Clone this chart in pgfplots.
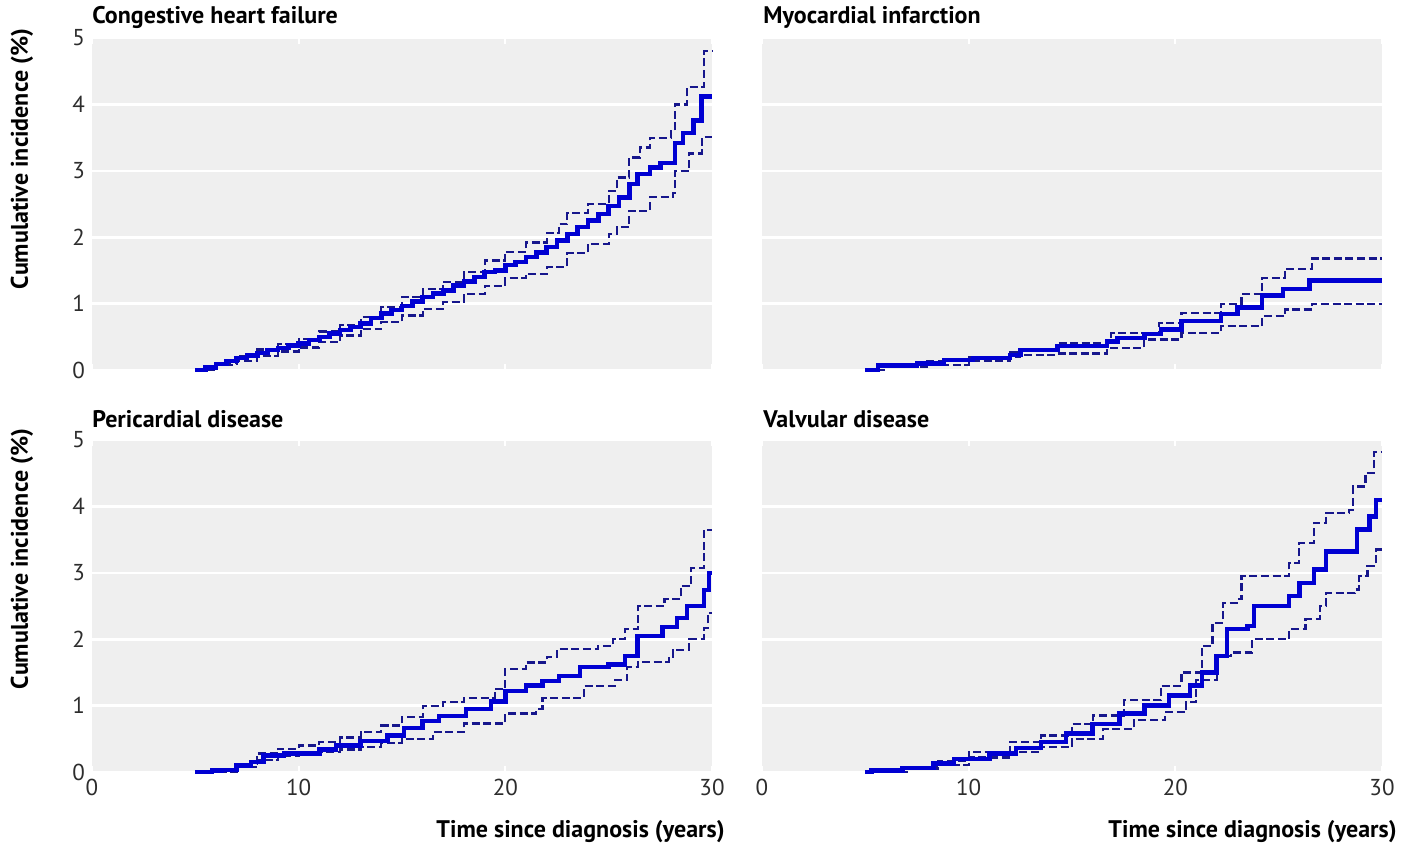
\documentclass[border=0pt]{standalone}
\usepackage{fontspec}
\setmainfont{PT Sans}
\usepackage{pgfplots}
\pgfplotsset{compat=1.18}

\definecolor{panelbg}{RGB}{239,239,239}
\definecolor{kmblue}{RGB}{0,0,210}
\definecolor{cinavy}{RGB}{22,22,140}
\definecolor{ticktext}{RGB}{45,45,45}

\pgfplotsset{
  panel/.style={
    scale only axis, width=310pt, height=166pt,
    anchor=south west,
    xmin=0, xmax=30, ymin=0, ymax=5,
    xtick={0,10,20,30}, ytick={0,...,5},
    axis background/.style={fill=panelbg},
    axis line style={draw=none},
    ymajorgrids, grid style={white, line width=1.3pt},
    xtick style={white, line width=1pt}, ytick style={draw=none},
    tick align=inside, major tick length=3pt,
    tick label style={font=\fontsize{11.5}{12}\selectfont, text=ticktext},
    /pgf/number format/assume math mode=true,
    clip=false,
  },
  est/.style={kmblue, line width=2.2pt, const plot, mark=none},
  ci/.style={cinavy, line width=1.1pt, dash pattern=on 4pt off 1.8pt, const plot, mark=none},
}
\newcommand{\lab}{\fontsize{12}{13}\selectfont\bfseries}

\begin{document}
\begin{tikzpicture}
\path[use as bounding box] (0,0) rectangle (701.5pt,-423pt);

% Congestive heart failure
\begin{axis}[panel, at={(46pt,-185pt)}, xticklabels={}]
  \addplot[ci] coordinates {(5,0) (6,0.1) (7,0.21) (8,0.31) (9,0.39) (10,0.47) (11,0.58) (12,0.68) (13,0.8) (14,0.95) (15,1.1) (16,1.22) (17,1.33) (18,1.48) (19,1.65) (20,1.78) (21,1.92) (22,2.06) (22.6,2.2) (23,2.36) (24,2.5) (25,2.7) (25.4,2.9) (26,3.2) (26.5,3.35) (27,3.5) (28,3.6) (28.2,4.0) (28.8,4.26) (29.6,4.8) (30,4.8)};
  \addplot[ci] coordinates {(5,0) (6,0.07) (7,0.14) (8,0.21) (9,0.28) (10,0.34) (11,0.42) (12,0.52) (13,0.62) (14,0.72) (15,0.82) (16,0.92) (17,1.03) (18,1.15) (19,1.27) (20,1.38) (21,1.45) (22,1.55) (23,1.76) (24,1.9) (25,2.05) (25.4,2.15) (26,2.4) (27,2.6) (28.1,2.66) (28.2,3.0) (28.9,3.26) (29.5,3.51) (30,3.51)};
  \addplot[est] coordinates {(5,0) (5.5,0.04) (6,0.09) (6.5,0.14) (7,0.18) (7.5,0.22) (8,0.26) (8.5,0.3) (9,0.33) (9.5,0.37) (10,0.4) (10.5,0.45) (11,0.5) (11.5,0.55) (12,0.6) (12.5,0.65) (13,0.7) (13.5,0.78) (14,0.85) (14.5,0.9) (15,0.96) (15.5,1.03) (16,1.1) (16.5,1.15) (17,1.2) (17.5,1.27) (18,1.33) (18.5,1.4) (19,1.48) (19.5,1.5) (20,1.58) (20.5,1.63) (21,1.7) (21.5,1.77) (22,1.85) (22.5,1.95) (23,2.05) (23.5,2.15) (24,2.25) (24.5,2.35) (25,2.47) (25.5,2.6) (26,2.8) (26.4,2.95) (27,3.05) (27.5,3.12) (28.2,3.42) (28.6,3.57) (29.1,3.76) (29.5,4.12) (30,4.12)};
\end{axis}

% Myocardial infarction
\begin{axis}[panel, at={(381pt,-185pt)}, xticklabels={}, yticklabels={}]
  \addplot[ci] coordinates {(5,0) (6,0.08) (8,0.13) (10,0.2) (12,0.27) (12.5,0.32) (14.3,0.41) (16.9,0.56) (19.2,0.71) (20.3,0.86) (22.2,0.99) (23.2,1.14) (24.2,1.39) (25.3,1.52) (26.6,1.68) (30,1.68)};
  \addplot[ci] coordinates {(5,0) (6,0.05) (8,0.08) (10,0.14) (12,0.19) (12.5,0.23) (14.3,0.25) (16.7,0.33) (18.5,0.46) (20.3,0.56) (22.2,0.66) (24.2,0.81) (25.3,0.91) (26.6,1.0) (30,1.0)};
  \addplot[est] coordinates {(5,0) (5.6,0.066) (7.5,0.1) (8.8,0.15) (10.2,0.18) (12,0.23) (12.5,0.3) (14.3,0.36) (16.7,0.43) (17.2,0.48) (18.5,0.54) (19.3,0.61) (20.3,0.74) (22.2,0.84) (23,0.94) (24.2,1.12) (25.2,1.22) (26.5,1.35) (30,1.35)};
\end{axis}

% Pericardial disease
\begin{axis}[panel, at={(46pt,-386pt)}]
  \addplot[ci] coordinates {(5,0) (6,0.02) (7,0.12) (8,0.28) (9,0.35) (10,0.4) (11,0.45) (12,0.52) (13,0.6) (14,0.7) (15,0.83) (16,1.0) (17,1.06) (18,1.12) (19.5,1.25) (20,1.55) (21,1.65) (22,1.73) (22.5,1.85) (24.5,1.9) (25.2,2.0) (25.8,2.15) (26.4,2.5) (27.7,2.6) (28.5,2.8) (29,3.07) (29.6,3.65) (30,3.65)};
  \addplot[ci] coordinates {(5,0) (6,0) (7,0.07) (8,0.18) (9,0.25) (10,0.28) (11,0.3) (12,0.34) (13,0.38) (14,0.44) (15,0.5) (16.5,0.6) (18,0.73) (20,0.88) (21.5,0.95) (21.8,1.12) (23.8,1.3) (25.3,1.38) (25.9,1.58) (26.4,1.66) (27.9,1.73) (28.1,1.84) (28.9,2.0) (29.6,2.17) (29.8,2.4) (30,2.4)};
  \addplot[est] coordinates {(5,0) (5.8,0.02) (6.3,0.03) (7,0.1) (7.7,0.15) (8.3,0.25) (9.3,0.28) (11,0.34) (11.8,0.4) (13,0.47) (14.3,0.55) (15.1,0.66) (16,0.77) (16.8,0.84) (18.1,0.95) (19.3,1.06) (20,1.22) (21,1.3) (21.8,1.37) (22.6,1.45) (23.6,1.58) (25,1.62) (25.8,1.75) (26.4,2.05) (27.6,2.18) (28.3,2.32) (28.8,2.5) (29.6,2.74) (29.85,3.0) (30,3.0)};
\end{axis}

% Valvular disease
\begin{axis}[panel, at={(381pt,-386pt)}, yticklabels={}]
  \addplot[ci] coordinates {(5,0) (7,0.08) (8.5,0.17) (10,0.3) (12,0.45) (13.5,0.55) (15,0.72) (16,0.85) (17.5,1.08) (19.3,1.3) (20.3,1.5) (21.3,1.9) (21.8,2.25) (22.3,2.55) (23,2.6) (23.2,2.95) (25.3,2.95) (25.5,3.15) (26,3.45) (26.7,3.75) (27.3,3.9) (28.4,3.95) (28.6,4.3) (29.2,4.5) (29.6,4.82) (30,4.82)};
  \addplot[ci] coordinates {(5,0) (7,0.05) (8.5,0.1) (10,0.22) (12,0.3) (13.5,0.38) (15,0.5) (16.5,0.65) (18,0.78) (19.5,0.9) (20.5,1.05) (21,1.39) (22,1.75) (22.7,1.8) (23.7,2.0) (25.3,2.0) (25.5,2.15) (26.3,2.3) (27,2.5) (27.3,2.7) (28.7,2.75) (28.9,2.95) (29.3,3.1) (29.7,3.35) (30,3.35)};
  \addplot[est] coordinates {(5,0) (5.3,0.02) (6.8,0.06) (8.3,0.13) (9.3,0.2) (11,0.28) (12.3,0.36) (13.5,0.45) (14.7,0.58) (16,0.72) (17.3,0.88) (18.5,1.0) (19.7,1.15) (20.7,1.3) (21.3,1.5) (22,1.75) (22.5,2.15) (23.5,2.2) (23.8,2.5) (25.3,2.5) (25.5,2.65) (26,2.85) (26.7,3.05) (27.3,3.32) (28.3,3.32) (28.8,3.65) (29.4,3.85) (29.7,4.1) (30,4.1)};
\end{axis}

% panel titles and axis labels
\node[anchor=west, inner sep=0pt] at (46pt,-8.5pt) {\lab Congestive heart failure};
\node[anchor=west, inner sep=0pt] at (381.5pt,-8.5pt) {\lab Myocardial infarction};
\node[anchor=west, inner sep=0pt] at (46pt,-209.5pt) {\lab Pericardial disease};
\node[anchor=west, inner sep=0pt] at (381.5pt,-209.5pt) {\lab Valvular disease};
\node[rotate=90, inner sep=0pt] at (11pt,-79.5pt) {\lab Cumulative incidence (\%)};
\node[rotate=90, inner sep=0pt] at (11pt,-279.5pt) {\lab Cumulative incidence (\%)};
\node[anchor=east, inner sep=0pt] at (362.5pt,-416pt) {\lab Time since diagnosis (years)};
\node[anchor=east, inner sep=0pt] at (698.5pt,-416pt) {\lab Time since diagnosis (years)};
\end{tikzpicture}
\end{document}
